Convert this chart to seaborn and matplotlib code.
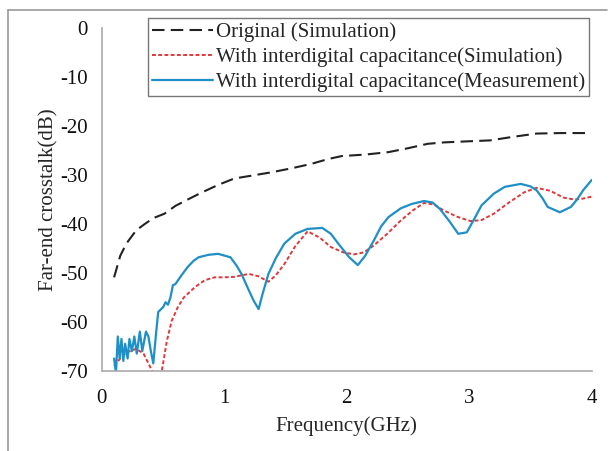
import numpy as np
import pandas as pd
import matplotlib
matplotlib.use("Agg")
import matplotlib.pyplot as plt
import seaborn as sns

# Original (Simulation)
orig_f = [0.1, 0.15, 0.2, 0.28, 0.35, 0.42, 0.51, 0.6, 0.7, 0.82, 0.95, 1.08, 1.2, 1.39,
          1.55, 1.71, 1.85, 1.96, 2.15, 2.34, 2.5, 2.66, 2.8, 2.98, 3.17, 3.35, 3.55, 3.75, 3.99]
orig_db = [-50.9, -46.5, -44.0, -41.3, -40.0, -38.8, -37.9, -36.3, -35.0, -33.5, -32.0, -30.7, -30.2, -29.4,
           -28.6, -27.7, -26.7, -26.1, -25.8, -25.3, -24.5, -23.6, -23.3, -23.1, -22.9, -22.2, -21.5, -21.4, -21.4]

# With interdigital capacitance (Simulation)
sim_f = [0.1, 0.15, 0.2, 0.28, 0.34, 0.38, 0.42, 0.45, 0.49, 0.53, 0.57, 0.62, 0.67, 0.76, 0.84,
         0.92, 1.0, 1.08, 1.2, 1.28, 1.36, 1.42, 1.49, 1.58, 1.68, 1.78, 1.87, 1.97, 2.06, 2.14,
         2.22, 2.33, 2.44, 2.54, 2.63, 2.71, 2.79, 2.9, 3.01, 3.1, 3.2, 3.33, 3.45, 3.55, 3.66,
         3.77, 3.86, 3.93, 4.0]
sim_db = [-69.0, -67.5, -66.3, -65.5, -66.5, -68.5, -70.5, -71.5, -70.0, -64.0, -59.8, -57.0, -55.0, -52.9, -51.5,
          -50.9, -50.9, -50.8, -50.2, -50.7, -51.8, -50.5, -48.2, -44.5, -41.5, -42.8, -44.7, -45.8, -46.2, -45.8,
          -44.4, -42.0, -39.3, -37.2, -35.7, -36.0, -37.2, -38.5, -39.4, -39.2, -37.9, -35.5, -33.5, -32.6, -33.2,
          -34.6, -35.0, -34.8, -34.4]

# With interdigital capacitance (Measurement)
meas_f = [0.1, 0.115, 0.13, 0.145, 0.16, 0.175, 0.19, 0.21, 0.225, 0.245, 0.265, 0.285, 0.31, 0.33,
          0.36, 0.38, 0.4, 0.42, 0.44, 0.46, 0.48, 0.5, 0.52, 0.54, 0.56, 0.58, 0.6, 0.65, 0.7,
          0.75, 0.79, 0.87, 0.95, 1.05, 1.1, 1.14, 1.19, 1.24, 1.28, 1.31, 1.36, 1.42, 1.49,
          1.58, 1.68, 1.8, 1.87, 1.93, 2.02, 2.09, 2.15, 2.22, 2.28, 2.34, 2.44, 2.53, 2.63,
          2.7, 2.76, 2.84, 2.91, 2.98, 3.04, 3.1, 3.2, 3.29, 3.42, 3.5, 3.55, 3.6, 3.64, 3.74,
          3.83, 3.88, 3.93, 4.0]
meas_db = [-67.5, -70.5, -63.0, -67.5, -63.5, -68.0, -64.5, -67.5, -63.5, -66.0, -63.0, -66.5, -62.0, -66.0,
           -62.0, -63.0, -66.0, -68.5, -63.0, -58.0, -57.5, -57.0, -56.0, -56.5, -55.0, -52.5, -52.3, -50.5, -48.8,
           -47.5, -46.8, -46.3, -46.1, -46.8, -48.5, -50.2, -53.0, -55.7, -57.4, -54.5, -50.2, -47.0, -44.0,
           -42.0, -41.0, -40.8, -42.0, -44.0, -46.8, -48.4, -46.5, -43.4, -40.5, -38.6, -36.8, -35.9, -35.3,
           -35.6, -36.9, -39.5, -42.0, -41.7, -39.0, -36.2, -33.8, -32.4, -31.8, -32.3, -33.1, -34.8, -36.5, -37.6,
           -36.5, -35.0, -33.1, -31.0]

labels = ["Original (Simulation)",
          "With interdigital capacitance(Simulation)",
          "With interdigital capacitance(Measurement)"]

df = pd.concat([
    pd.DataFrame({"f": orig_f, "db": orig_db, "series": labels[0]}),
    pd.DataFrame({"f": sim_f, "db": sim_db, "series": labels[1]}),
    pd.DataFrame({"f": meas_f, "db": meas_db, "series": labels[2]}),
])

sns.set_style("white")
plt.rcParams["font.family"] = ["Liberation Serif", "DejaVu Serif"]
plt.rcParams["axes.unicode_minus"] = False

fig = plt.figure(figsize=(6.1, 4.51), dpi=100)
ax = fig.add_axes([0.167, 0.178, 0.803, 0.759])

colors = ["#222222", "#e0383a", "#1f8fc6"]
dashes = [(6, 3), (2, 1.2), ""]
widths = [1.5, 1.4, 1.6]
for lab, c, d, w in zip(labels, colors, dashes, widths):
    sub = df[df["series"] == lab]
    sns.lineplot(data=sub, x="f", y="db", color=c, lw=w, ax=ax, label=lab,
                 estimator=None, sort=False)
    if d:
        ax.lines[-1].set_dashes(d)

ax.set_xlim(0, 4)
ax.set_ylim(-70, 0)
ax.set_xticks([0, 1, 2, 3, 4])
ax.set_yticks(range(-70, 1, 10))
ax.tick_params(axis="both", labelsize=15, colors="#111111")
ax.tick_params(axis="x", length=0, pad=13)
ax.tick_params(axis="y", length=5, color="#aaaaaa", direction="out", pad=5)
for s in ["top", "right"]:
    ax.spines[s].set_visible(False)
for s in ["left", "bottom"]:
    ax.spines[s].set_color("#aaaaaa")
    ax.spines[s].set_linewidth(1.2)
ax.set_xlabel("Frequency(GHz)", fontsize=15, labelpad=6)
ax.set_ylabel("Far-end crosstalk(dB)", fontsize=15, labelpad=1)

leg = ax.legend(loc="upper right", bbox_to_anchor=(0.995, 1.03), fontsize=15, frameon=True,
                fancybox=False, handlelength=2.9, handletextpad=0.15, borderpad=0.2,
                labelspacing=0.25, borderaxespad=0.0)
leg.get_frame().set_edgecolor("#555555")
leg.get_frame().set_linewidth(1.0)

# outer frame around the figure
fig.add_artist(plt.Line2D([0.013, 0.995], [0.978, 0.978], transform=fig.transFigure, color="#999999", lw=1.2))
fig.add_artist(plt.Line2D([0.013, 0.013], [0.0, 0.978], transform=fig.transFigure, color="#999999", lw=1.2))

fig.savefig("out.png", dpi=100)
